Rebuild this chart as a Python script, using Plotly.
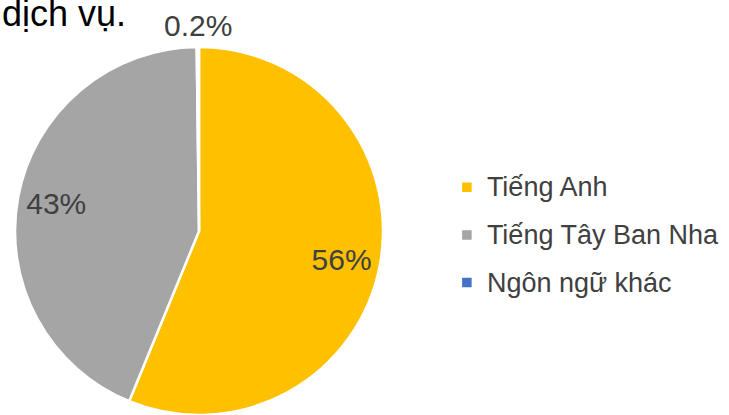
import math
import plotly.graph_objects as go

# Data
categories = ["Tiếng Anh", "Tiếng Tây Ban Nha", "Ngôn ngữ khác"]
values = [56.2, 43.6, 0.2]
value_labels = ["56%", "43%", "0.2%"]
colors = ["#FFC000", "#A5A5A5", "#4472C4"]
title_tail = "dịch vụ."

FONT = "Liberation Sans, Arial, sans-serif"
W, H = 729, 415
legend_labels = ["<br><br><span style='font-size:27px'>" + c + "</span><br>" for c in categories]
dom_x = [0, 0.546]
dom_y = [0, 0.8867]
pie_domain = dict(x=dom_x, y=dom_y)

fig = go.Figure()

# Visible pie (slices + legend)
fig.add_trace(
    go.Pie(
        labels=legend_labels,
        values=values,
        textinfo="none",
        marker=dict(colors=colors, line=dict(color="#FFFFFF", width=2.5)),
        sort=False,
        direction="clockwise",
        rotation=0,
        hoverinfo="none",
        domain=pie_domain,
    )
)

# Transparent ring carrying the inside data labels (places them toward the rim)
fig.add_trace(
    go.Pie(
        labels=legend_labels,
        values=values,
        text=value_labels,
        textinfo="text",
        textposition=["inside", "inside", "none"],
        insidetextorientation="horizontal",
        textfont=dict(family=FONT, size=30, color="#404040"),
        marker=dict(colors=["rgba(0,0,0,0)"] * 3, line=dict(width=0)),
        hole=0.58,
        sort=False,
        direction="clockwise",
        rotation=0,
        hoverinfo="none",
        showlegend=False,
        domain=pie_domain,
    )
)

# Outside label for the tiny last slice, centred on its mid-angle
total = sum(values)
mid_frac = (sum(values[:-1]) + values[-1] / 2) / total
theta = 2 * math.pi * mid_frac
radius_px = min((dom_x[1] - dom_x[0]) * W, (dom_y[1] - dom_y[0]) * H) / 2
cx = (dom_x[0] + dom_x[1]) / 2
cy = (dom_y[0] + dom_y[1]) / 2
dist = radius_px + 22
lab_x = cx + dist * math.sin(theta) / W
lab_y = cy + dist * math.cos(theta) / H

fig.update_layout(
    width=W,
    height=H,
    margin=dict(l=0, r=0, t=0, b=0, autoexpand=False),
    paper_bgcolor="#FFFFFF",
    plot_bgcolor="#FFFFFF",
    showlegend=True,
    legend=dict(
        x=0.613,
        xanchor="left",
        y=0.433,
        yanchor="middle",
        font=dict(family=FONT, size=8.6, color="#404040"),
        bgcolor="rgba(0,0,0,0)",
    ),
    annotations=[
        dict(
            text=title_tail,
            xref="paper",
            yref="paper",
            x=0,
            y=1,
            xanchor="left",
            yanchor="top",
            yshift=9,
            showarrow=False,
            font=dict(family=FONT, size=36, color="#000000"),
        ),
        dict(
            text=value_labels[-1],
            xref="paper",
            yref="paper",
            x=lab_x,
            y=lab_y,
            xanchor="center",
            yanchor="middle",
            showarrow=False,
            font=dict(family=FONT, size=30, color="#404040"),
        ),
    ],
)

fig.write_html(
    "out.html",
    config={"displayModeBar": False},
    post_script="document.body.style.margin='0';",
)
